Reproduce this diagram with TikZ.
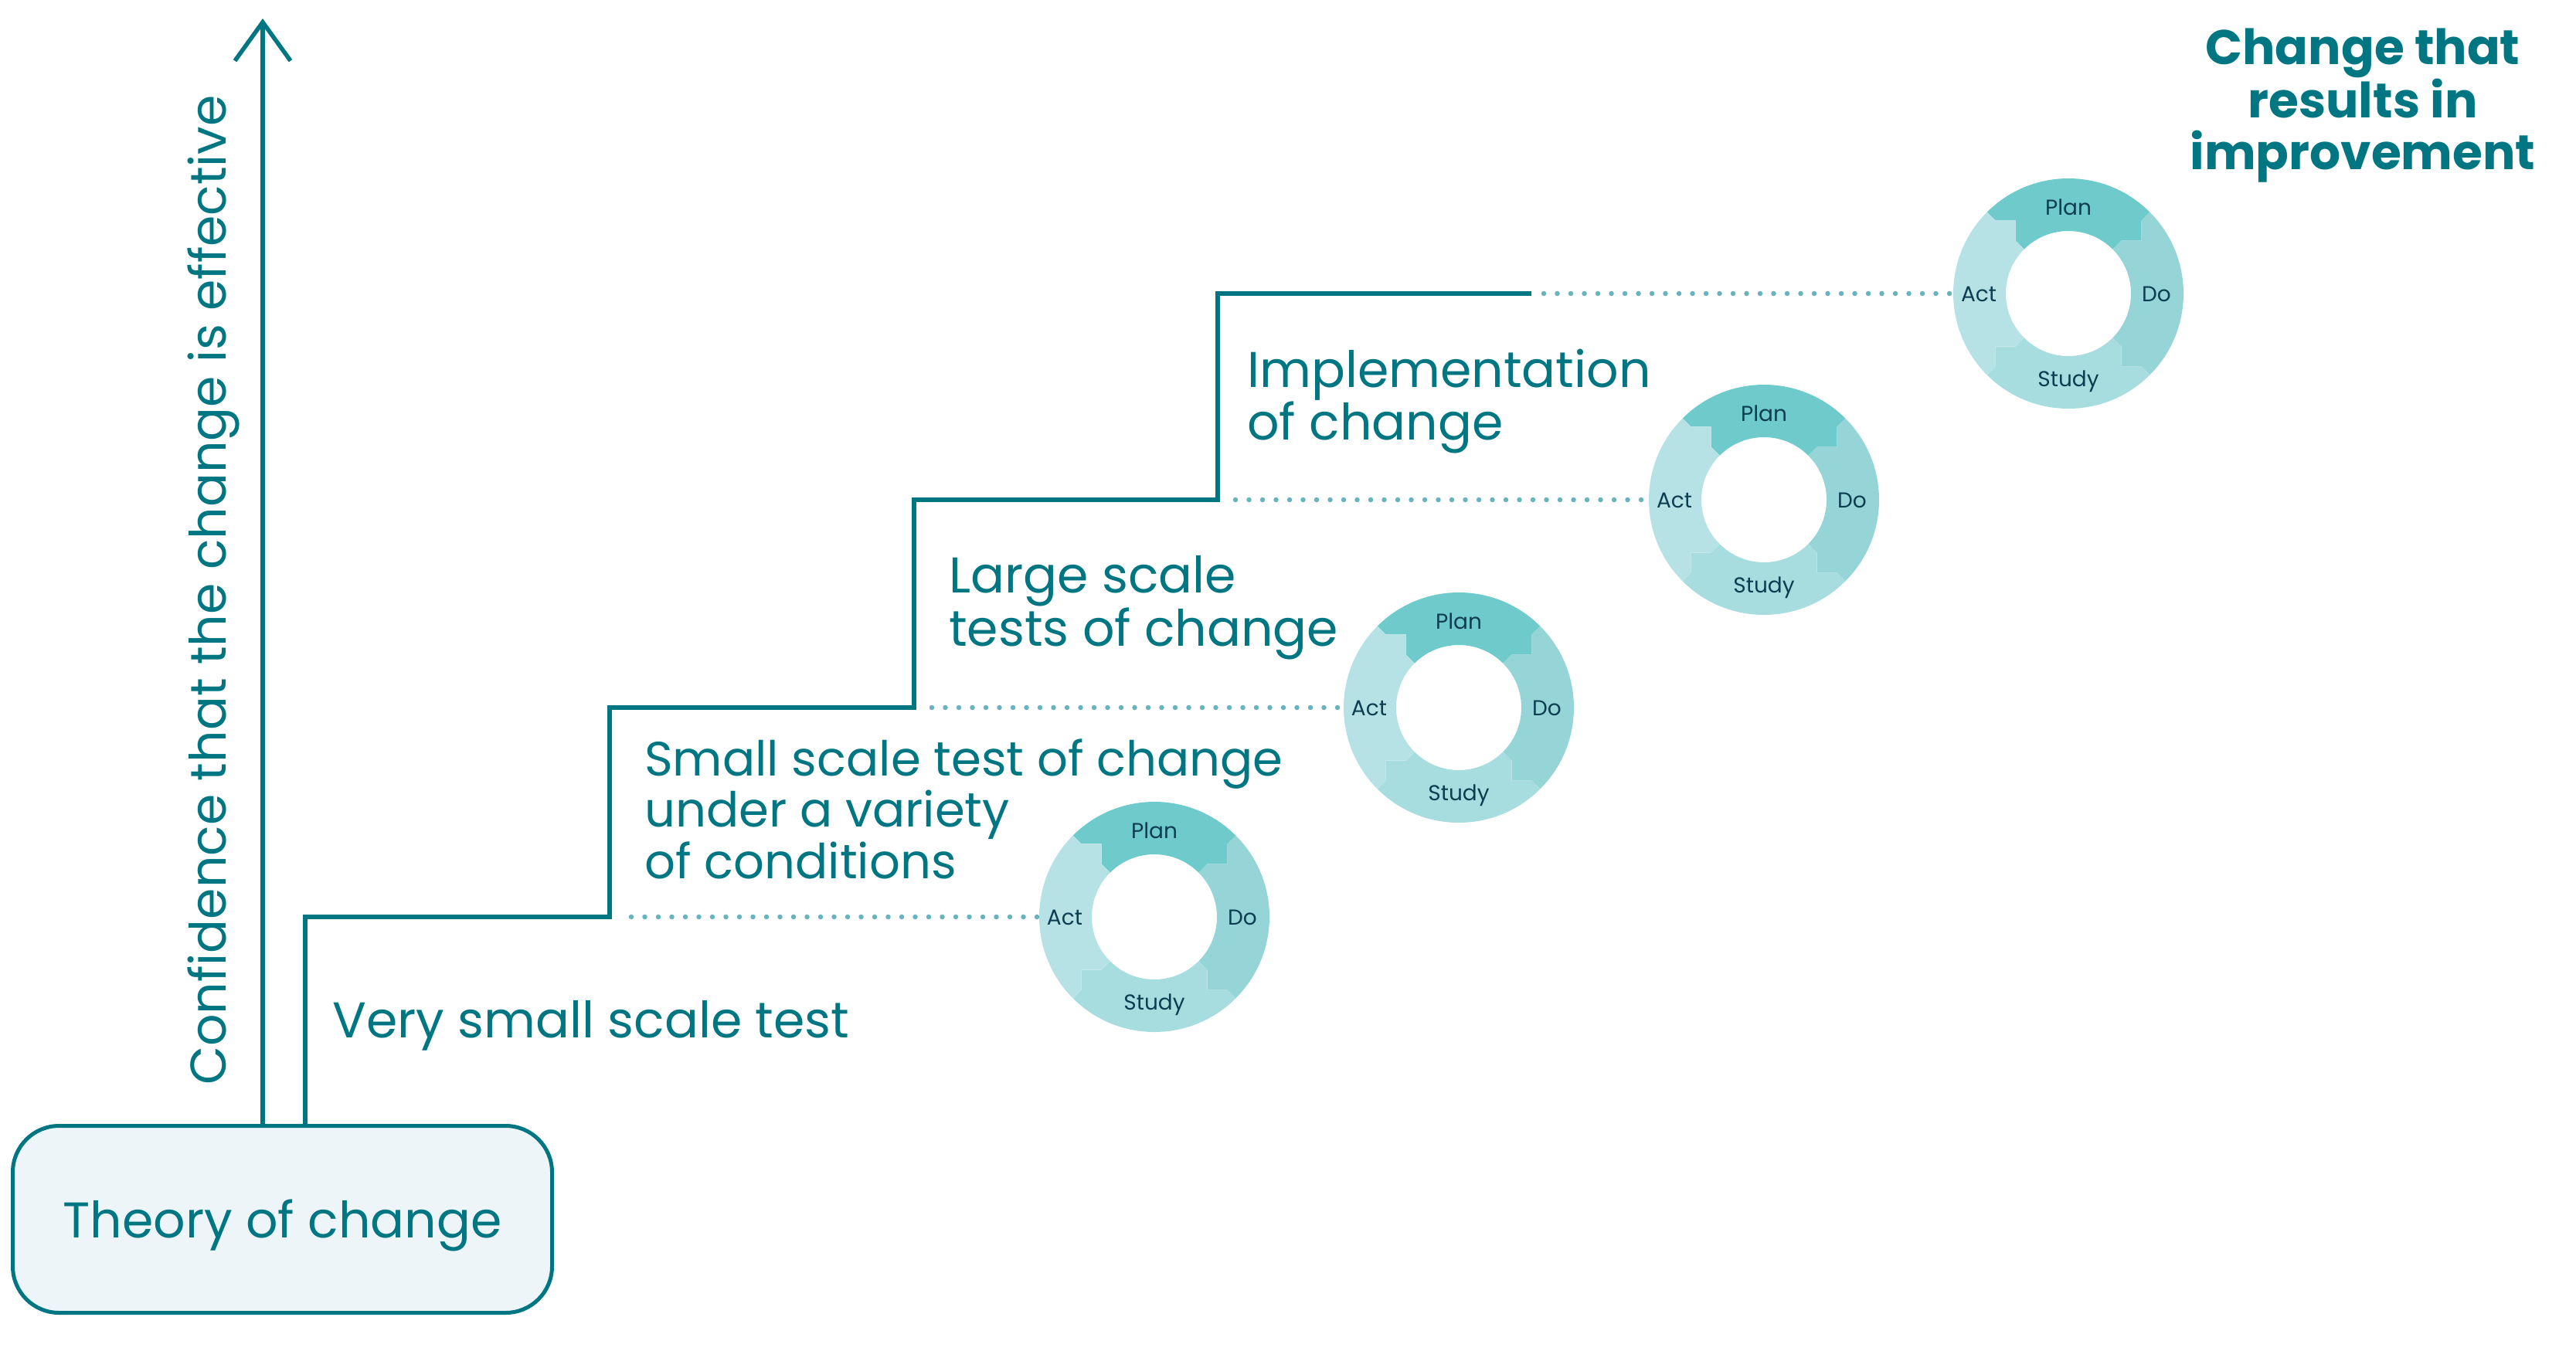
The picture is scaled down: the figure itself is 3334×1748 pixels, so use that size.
\documentclass[tikz,border=0pt]{standalone}
\usepackage{fontspec}
\setmainfont{Poppins}
\usetikzlibrary{arrows.meta}
\definecolor{stepteal}{RGB}{0,118,130}
\definecolor{boxfill}{RGB}{237,245,248}
\definecolor{dotteal}{RGB}{104,180,190}
\definecolor{planc}{RGB}{111,202,204}
\definecolor{doc}{RGB}{149,213,215}
\definecolor{studyc}{RGB}{167,221,223}
\definecolor{actc}{RGB}{183,226,229}
\definecolor{labelc}{RGB}{12,62,82}
\tikzset{
	steptext/.style={stepteal, anchor=base west, align=left, inner sep=0pt, font=\fontsize{65}{66.5}\selectfont},
	stepline/.style={stepteal, line width=5.5pt},
	dotline/.style={dotteal, line width=6.5pt, line cap=round, dash pattern=on 0pt off 17.5pt},
	pdsa/.style={labelc, inner sep=0pt, text height=20pt, text depth=0pt, font=\fontsize{28}{30}\selectfont},
}

\begin{document}
\begin{tikzpicture}[x=1pt, y=-1pt]
	\useasboundingbox (0,0) rectangle (3334,1748);
	\node[draw=stepteal, fill=boxfill, line width=5pt, rounded corners=60pt, minimum width=698pt, minimum height=242pt, text=stepteal, inner sep=0pt, text height=47pt, text depth=0pt, font=\fontsize{65}{66.5}\selectfont] (theory) at (365.5,1578.5) {Theory of change};
	\coordinate (axistop) at (340,24);
	\draw[stepline, -{Straight Barb[length=50pt, width=72pt]}] (theory.north -| axistop) -- (axistop);
	\node[steptext, rotate=90] (confidence) at (292,1405) {Confidence that the change is effective};
	\coordinate (step0) at (395,1187);
	\coordinate (step1) at (789,916);
	\coordinate (step2) at (1183,647);
	\coordinate (step3) at (1576,380);
	\coordinate (stepend) at (1982,380);
	\draw[stepline] (theory.north -| step0) -- (step0) -| (step1) -| (step2) -| (step3) -- (stepend);
	\foreach \n/\cx/\cy in {1/1494/1187, 2/1888/916, 3/2283/647, 4/2677/380} {
		\node[circle, minimum size=298pt, inner sep=0pt] (ring\n) at (\cx,\cy) {};
		\begin{scope}[shift={(\cx,\cy)}, yscale=-1]
			\foreach \ang/\col in {0/planc, 90/doc, 180/studyc, -90/actc}
				\fill[\col, rotate=\ang] (135:149) arc[start angle=135, end angle=45, radius=149] -- (94.6,94.6) -- (94.6,68.5) -- (68.5,68.5) -- (45:81) arc[start angle=45, end angle=135, radius=81] -- (-68.5,68.5) -- (-68.5,94.6) -- (-94.6,94.6) -- cycle;
		\end{scope}
		\node[pdsa] (plan\n) at (\cx,\cy-112) {Plan};
		\node[pdsa] (do\n) at (\cx+114,\cy) {Do};
		\node[pdsa] (study\n) at (\cx,\cy+110) {Study};
		\node[pdsa] (act\n) at (\cx-116,\cy) {Act};
	}
	\coordinate (dot1) at (817,1187);
	\coordinate (dot2) at (1206,916);
	\coordinate (dot3) at (1599,647);
	\coordinate (dot4) at (1998,380);
	\draw[dotline] (dot1) -- (ring1.west);
	\draw[dotline] (dot2) -- (ring2.west);
	\draw[dotline] (dot3) -- (ring3.west);
	\draw[dotline] (dot4) -- (ring4.west);
	\node[steptext] (verysmall) at (430,1343) {Very small scale test};
	\node[steptext, font=\fontsize{62.5}{66.5}\selectfont] (smallscale) at (834,1137) {Small scale test of change\\under a variety\\of conditions};
	\node[steptext] (largescale) at (1228,836) {Large scale\\tests of change};
	\node[steptext] (implement) at (1614,569) {Implementation\\of change};
	\node[stepteal, anchor=base, align=center, inner sep=0pt, font=\bfseries\fontsize{63}{66.5}\selectfont] (result) at (3058,219) {Change that\\results in\\improvement};
\end{tikzpicture}
\end{document}
